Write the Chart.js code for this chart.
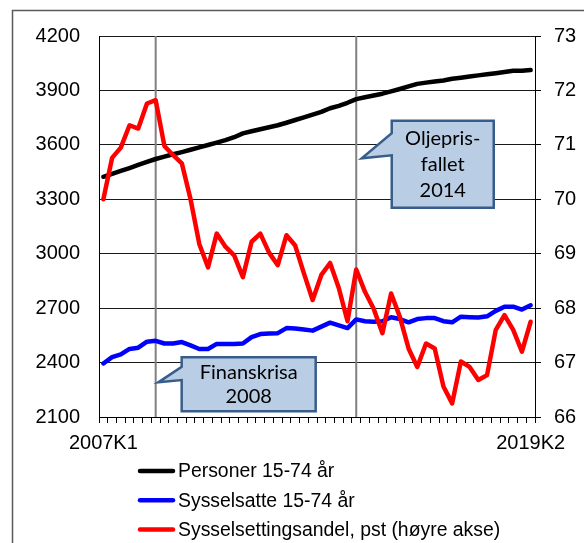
<!DOCTYPE html>
<html>
<head>
<meta charset="utf-8">
<script src="https://cdn.jsdelivr.net/npm/chart.js@4"></script>
<style>
  html, body { margin: 0; padding: 0; background: #fff; overflow: hidden; }
  #wrap { position: relative; width: 584px; height: 543px; }
</style>
</head>
<body>
<div id="wrap"><canvas id="myChart"></canvas></div>
<script>
// Quarters on the x axis
var quarters = [
  '2007K1', '2007K2', '2007K3', '2007K4', '2008K1', '2008K2', '2008K3', '2008K4',
  '2009K1', '2009K2', '2009K3', '2009K4', '2010K1', '2010K2', '2010K3', '2010K4',
  '2011K1', '2011K2', '2011K3', '2011K4', '2012K1', '2012K2', '2012K3', '2012K4',
  '2013K1', '2013K2', '2013K3', '2013K4', '2014K1', '2014K2', '2014K3', '2014K4',
  '2015K1', '2015K2', '2015K3', '2015K4', '2016K1', '2016K2', '2016K3', '2016K4',
  '2017K1', '2017K2', '2017K3', '2017K4', '2018K1', '2018K2', '2018K3', '2018K4',
  '2019K1', '2019K2'
];

// Personer 15-74 år (1000 personer, venstre akse)
var personer = [
  3424, 3440, 3456, 3472, 3489, 3506, 3522, 3535, 3548, 3560,
  3573, 3586, 3599, 3612, 3626, 3642, 3663, 3675, 3686, 3697,
  3708, 3722, 3737, 3752, 3767, 3782, 3802, 3815, 3832, 3852,
  3862, 3872, 3882, 3895, 3908, 3922, 3936, 3943, 3949, 3955,
  3964, 3970, 3977, 3983, 3989, 3995, 4002, 4008, 4009, 4012
];

// Sysselsatte 15-74 år (1000 personer, venstre akse)
var sysselsatte = [
  2395, 2430, 2445, 2475, 2482, 2515, 2520, 2505, 2505, 2513,
  2495, 2475, 2475, 2503, 2503, 2503, 2505, 2540, 2557, 2560,
  2562, 2590, 2588, 2582, 2576, 2598, 2620, 2605, 2590, 2638,
  2628, 2625, 2628, 2650, 2640, 2622, 2640, 2645, 2645, 2628,
  2622, 2653, 2650, 2648, 2655, 2685, 2708, 2708, 2692, 2716
];

// Sysselsettingsandel, pst (høyre akse)
var andel = [
  70.00, 70.76, 70.95, 71.36, 71.30, 71.76, 71.82, 70.98, 70.81, 70.66,
  70.00, 69.18, 68.75, 69.37, 69.13, 68.97, 68.57, 69.22, 69.37, 69.02,
  68.79, 69.34, 69.15, 68.64, 68.15, 68.61, 68.83, 68.37, 67.76, 68.71,
  68.30, 67.99, 67.54, 68.27, 67.84, 67.26, 66.92, 67.35, 67.26, 66.56,
  66.25, 67.02, 66.92, 66.68, 66.77, 67.60, 67.87, 67.60, 67.20, 67.75
];

var seriesNames = ['Personer 15-74 år', 'Sysselsatte 15-74 år', 'Sysselsettingsandel, pst (høyre akse)'];
var seriesColors = ['#000000', '#0000FF', '#FF0000'];

// Events marked with a vertical line and a callout
var events = ['2008K3', '2014K2'];
var calloutTexts = [['Finanskrisa', '2008'], ['Oljepris-', 'fallet', '2014']];
var calloutValues = [2291, 3526]; // where the pointer tip sits, left axis

var axisFont = { family: "'Liberation Sans', Arial, sans-serif", size: 20 };

// Callout geometry relative to the pointer tip
var calloutBoxes = [
  { tipDx: 2.6, dx: 23.4, dy: -25, w: 134, h: 54, base1: -15.6, base2: -2.3, lineGap: 24 },
  { tipDx: 5.5, dx: 30, dy: -37.6, w: 102, h: 87, base1: -25, base2: -3, lineGap: 26 }
];

var extras = {
  id: 'extras',
  beforeDraw: function (chart) {
    var ctx = chart.ctx;
    ctx.save();
    ctx.fillStyle = '#fff';
    ctx.fillRect(0, 0, chart.width, chart.height);
    ctx.strokeStyle = '#595959';
    ctx.lineWidth = 1.5;
    ctx.strokeRect(12.5, 10.5, 700, 700);
    ctx.restore();
  },
  beforeDatasetsDraw: function (chart) {
    var ctx = chart.ctx, x = chart.scales.x, a = chart.chartArea;
    ctx.save();
    ctx.strokeStyle = '#808080';
    ctx.lineWidth = 2;
    events.forEach(function (e) {
      var px = x.getPixelForValue(quarters.indexOf(e));
      ctx.beginPath();
      ctx.moveTo(px, a.top);
      ctx.lineTo(px, a.bottom);
      ctx.stroke();
    });
    ctx.restore();
  },
  afterDatasetsDraw: function (chart) {
    var ctx = chart.ctx, x = chart.scales.x, y = chart.scales.y;
    ctx.save();
    events.forEach(function (e, k) {
      var b = calloutBoxes[k];
      var tx = x.getPixelForValue(quarters.indexOf(e)) + b.tipDx;
      var ty = y.getPixelForValue(calloutValues[k]);
      var l = tx + b.dx, t = ty + b.dy, r = l + b.w, bt = t + b.h;
      ctx.beginPath();
      ctx.moveTo(l, t);
      ctx.lineTo(r, t);
      ctx.lineTo(r, bt);
      ctx.lineTo(l, bt);
      ctx.lineTo(l, ty + b.base2);
      ctx.lineTo(tx, ty);
      ctx.lineTo(l, ty + b.base1);
      ctx.closePath();
      ctx.fillStyle = '#B9CDE5';
      ctx.fill();
      ctx.strokeStyle = '#385D8A';
      ctx.lineWidth = 2.5;
      ctx.lineJoin = 'miter';
      ctx.stroke();
      ctx.fillStyle = '#000';
      ctx.font = "20px Lato, 'Open Sans', sans-serif";
      ctx.textAlign = 'center';
      ctx.textBaseline = 'middle';
      var lines = calloutTexts[k];
      var cy = t + b.h / 2 - (lines.length - 1) * b.lineGap / 2;
      lines.forEach(function (s, j) {
        ctx.fillText(s, l + b.w / 2, cy + j * b.lineGap);
      });
    });
    ctx.restore();
  },
  afterDraw: function (chart) {
    // legend, one series per row
    var ctx = chart.ctx;
    ctx.save();
    ctx.font = "19.4px 'Liberation Sans', Arial, sans-serif";
    ctx.textAlign = 'left';
    ctx.textBaseline = 'middle';
    ctx.lineCap = 'round';
    seriesNames.forEach(function (name, i) {
      var ly = 471 + i * 29.3;
      ctx.strokeStyle = seriesColors[i];
      ctx.lineWidth = 4.5;
      ctx.beginPath();
      ctx.moveTo(140, ly);
      ctx.lineTo(173, ly);
      ctx.stroke();
      ctx.fillStyle = '#000';
      ctx.fillText(name, 178, ly + 1);
    });
    ctx.restore();
  }
};

var data = {
  labels: quarters,
  datasets: [
    { label: seriesNames[0], data: personer, yAxisID: 'y', borderColor: seriesColors[0], order: 3 },
    { label: seriesNames[1], data: sysselsatte, yAxisID: 'y', borderColor: seriesColors[1], order: 2 },
    { label: seriesNames[2], data: andel, yAxisID: 'y1', borderColor: seriesColors[2], order: 1 }
  ]
};
data.datasets.forEach(function (d) {
  d.borderWidth = 4.5;
  d.pointRadius = 0;
  d.tension = 0;
  d.fill = false;
  d.borderJoinStyle = 'round';
  d.borderCapStyle = 'round';
});

var config = {
  type: 'line',
  data: data,
  options: {
    responsive: true,
    maintainAspectRatio: false,
    animation: false,
    layout: { padding: { top: 36, left: 0, right: 0, bottom: 0 } },
    plugins: {
      legend: { display: false },
      tooltip: { enabled: false }
    },
    scales: {
      x: {
        offset: true,
        grid: { offset: true, drawOnChartArea: false, drawTicks: true, tickLength: 6, color: '#000' },
        border: { color: '#000', width: 1 },
        ticks: {
          autoSkip: false, maxRotation: 0, minRotation: 0, padding: 8, color: '#000', font: axisFont,
          callback: function (v, i) { return (i === 0 || i === quarters.length - 1) ? quarters[i] : ''; }
        },
        afterFit: function (s) { s.height = 126; }
      },
      y: {
        position: 'left', min: 2100, max: 4200,
        ticks: { stepSize: 300, padding: 19, color: '#000', font: axisFont,
          callback: function (v) { return String(v); } },
        grid: { color: '#1a1a1a', drawTicks: false },
        border: { color: '#000' },
        afterFit: function (s) { s.width = 99; }
      },
      y1: {
        position: 'right', min: 66, max: 73,
        ticks: { stepSize: 1, padding: 13, color: '#000', font: axisFont },
        grid: { drawOnChartArea: false, drawTicks: true, tickLength: 6, color: '#000' },
        border: { color: '#000' },
        afterFit: function (s) { s.width = 49; }
      }
    }
  },
  plugins: [extras]
};

var myChart = new Chart(document.getElementById('myChart').getContext('2d'), config);
</script>
</body>
</html>
